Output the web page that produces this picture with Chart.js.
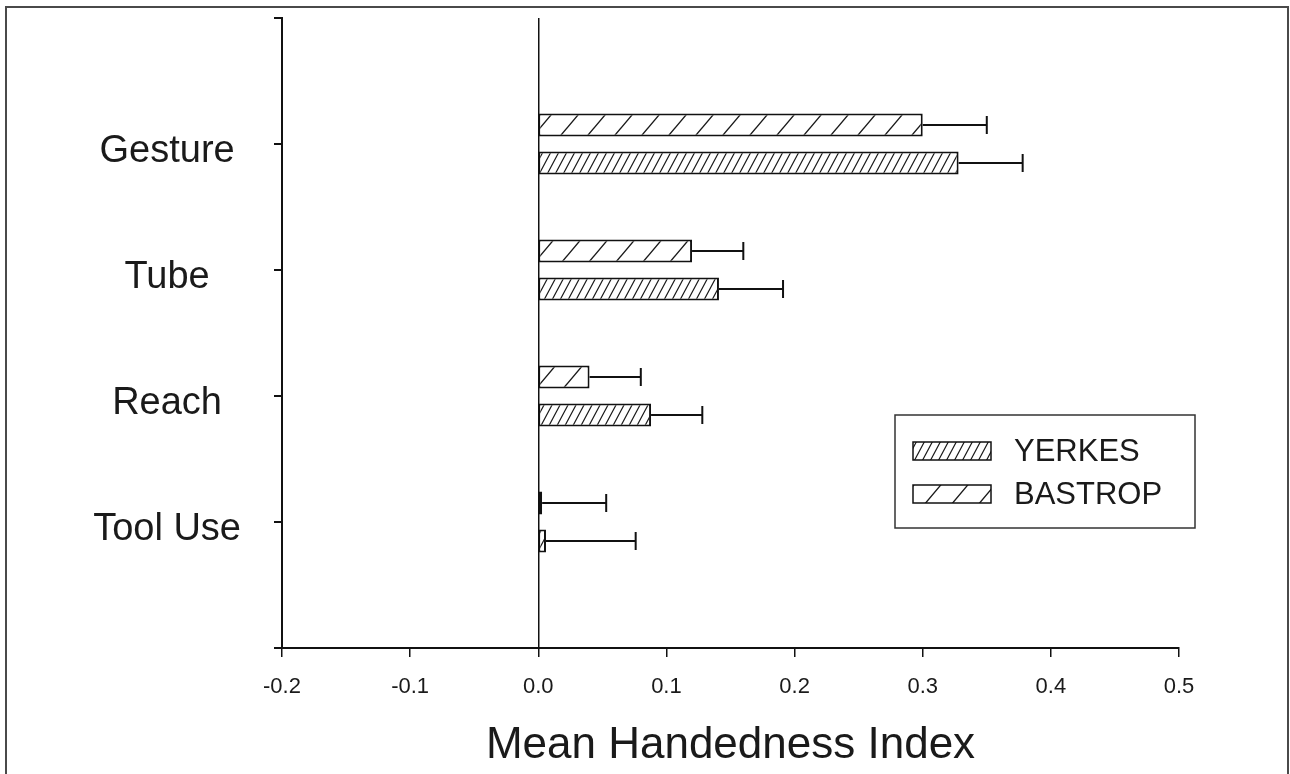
<!DOCTYPE html>
<html>
<head>
<meta charset="utf-8">
<script src="https://cdn.jsdelivr.net/npm/chart.js@4.4.1/dist/chart.umd.min.js"></script>
<style>
  html, body { margin: 0; padding: 0; background: #fff; }
  #wrap { width: 1290px; height: 774px; }
</style>
</head>
<body>
<div id="wrap"><canvas id="c" width="1290" height="774"></canvas></div>
<script>
// ---- data ----
const categories = ['Gesture', 'Tube', 'Reach', 'Tool Use'];
const bastropMeans = [0.30, 0.12, 0.04, 0.003];
const bastropErrors = [0.05, 0.04, 0.04, 0.05];
const yerkesMeans = [0.328, 0.141, 0.088, 0.006];
const yerkesErrors = [0.05, 0.05, 0.04, 0.07];
const xTickMin = -0.2;
const xTickMax = 0.5;
const xTickStep = 0.1;
const axisTitle = 'Mean Handedness Index';

// padded category list (empty slots above and below)
const yLabels = [''].concat(categories, ['']);
const pad = arr => [null].concat(arr, [null]);

function hatch(w, h, lw, color) {
  const c = document.createElement('canvas');
  c.width = w; c.height = h;
  const g = c.getContext('2d');
  g.fillStyle = '#fff';
  g.fillRect(0, 0, w, h);
  g.strokeStyle = color;
  g.lineWidth = lw;
  g.lineCap = 'square';
  for (const off of [-w, 0, w]) {
    g.beginPath();
    g.moveTo(off - 1, h + h / w);
    g.lineTo(off + w + 1, -h / w);
    g.stroke();
  }
  return g.createPattern(c, 'repeat');
}
const wideHatch = hatch(27, 32, 1.4, '#1a1a1a');
const denseHatch = hatch(8, 15, 1.2, '#1a1a1a');

const FONT = "'Liberation Sans', Arial, Helvetica, sans-serif";

const frame = {
  id: 'frame',
  beforeDraw(chart) {
    const ctx = chart.ctx;
    ctx.save();
    ctx.fillStyle = '#fff';
    ctx.fillRect(0, 0, chart.width, chart.height);
    ctx.strokeStyle = '#4a4a4a';
    ctx.lineWidth = 2;
    ctx.strokeRect(6, 7, 1282, 800);
    ctx.restore();
  }
};

const errorBars = {
  id: 'errorBars',
  afterDatasetsDraw(chart) {
    const ctx = chart.ctx;
    const xs = chart.scales.x;
    ctx.save();
    ctx.strokeStyle = '#111';
    ctx.lineWidth = 2;
    chart.data.datasets.forEach((ds, di) => {
      const meta = chart.getDatasetMeta(di);
      meta.data.forEach((bar, i) => {
        const v = ds.data[i];
        const e = ds.errors[i];
        if (v == null || e == null) return;
        const x0 = bar.x;
        const x1 = xs.getPixelForValue(v + e);
        const y = bar.y;
        ctx.beginPath();
        ctx.moveTo(x0, y);
        ctx.lineTo(x1, y);
        ctx.moveTo(x1, y - 9);
        ctx.lineTo(x1, y + 9);
        ctx.stroke();
      });
    });
    ctx.restore();
  }
};

const boxLegend = {
  id: 'boxLegend',
  afterDraw(chart) {
    const ctx = chart.ctx;
    ctx.save();
    ctx.strokeStyle = '#333';
    ctx.lineWidth = 1.5;
    ctx.strokeRect(895, 415, 300, 113);
    const items = [
      { label: 'YERKES', fill: denseHatch, y: 442 },
      { label: 'BASTROP', fill: wideHatch, y: 485 }
    ];
    items.forEach(it => {
      ctx.fillStyle = it.fill;
      ctx.fillRect(913, it.y, 78, 18);
      ctx.strokeStyle = '#111';
      ctx.lineWidth = 1.5;
      ctx.strokeRect(913, it.y, 78, 18);
      ctx.fillStyle = '#1a1a1a';
      ctx.font = '31px ' + FONT;
      ctx.textBaseline = 'middle';
      ctx.textAlign = 'left';
      ctx.fillText(it.label, 1014, it.y + 10);
    });
    ctx.restore();
  }
};

new Chart(document.getElementById('c'), {
  type: 'bar',
  data: {
    labels: yLabels,
    datasets: [
      {
        label: 'BASTROP',
        data: pad(bastropMeans),
        errors: pad(bastropErrors),
        backgroundColor: wideHatch,
        borderColor: '#111',
        borderWidth: 2,
        borderSkipped: false
      },
      {
        label: 'YERKES',
        data: pad(yerkesMeans),
        errors: pad(yerkesErrors),
        backgroundColor: denseHatch,
        borderColor: '#111',
        borderWidth: 2,
        borderSkipped: false
      }
    ]
  },
  options: {
    indexAxis: 'y',
    responsive: false,
    animation: false,
    devicePixelRatio: 1,
    categoryPercentage: 0.603,
    barPercentage: 0.605,
    layout: { padding: { left: 0, right: 111, top: 18, bottom: 0 } },
    plugins: { legend: { display: false }, tooltip: { enabled: false }, title: { display: false } },
    scales: {
      y: {
        type: 'category',
        offset: false,
        afterFit(s) { s.width = 282; s.paddingTop = 0; s.paddingBottom = 0; },
        border: { display: true, color: '#111', width: 2 },
        grid: { offset: false, drawOnChartArea: false, drawTicks: true, tickLength: 8, color: '#111', lineWidth: 2 },
        ticks: {
          autoSkip: false,
          crossAlign: 'center',
          padding: 33,
          labelOffset: 8,
          color: '#1a1a1a',
          font: { family: FONT, size: 38 }
        }
      },
      x: {
        type: 'linear',
        min: xTickMin,
        max: xTickMax,
        afterFit(s) { s.height = 126; },
        border: { display: true, color: '#111', width: 2 },
        grid: {
          drawOnChartArea: true,
          drawTicks: true,
          tickLength: 9,
          color: c => (c.tick && Math.abs(c.tick.value) < 1e-9) ? '#111' : 'rgba(0,0,0,0)',
          lineWidth: 1.5,
          tickColor: '#111',
          tickWidth: 1.5
        },
        ticks: {
          stepSize: xTickStep,
          padding: 17,
          color: '#1a1a1a',
          font: { family: FONT, size: 22 },
          callback: v => (Math.round(v * 10) / 10).toFixed(1)
        },
        title: {
          display: true,
          text: axisTitle,
          color: '#1a1a1a',
          font: { family: FONT, size: 44 },
          padding: { top: 2, bottom: 2 }
        }
      }
    }
  },
  plugins: [frame, errorBars, boxLegend]
});
</script>
</body>
</html>
